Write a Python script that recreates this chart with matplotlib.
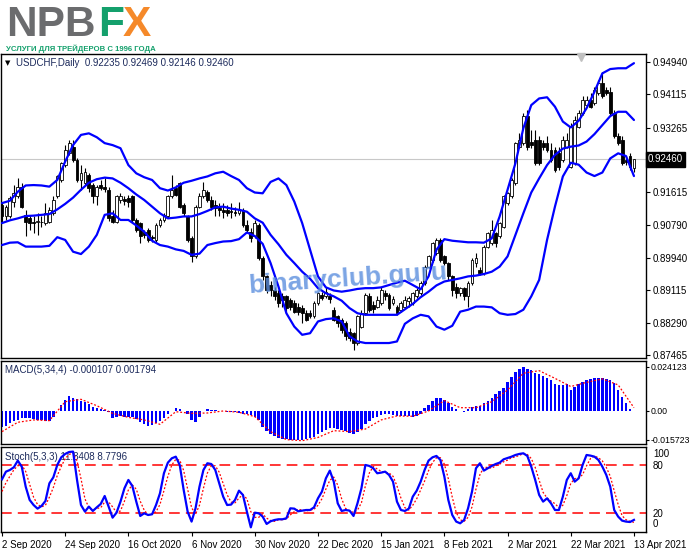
import numpy as np
import matplotlib.pyplot as plt
import matplotlib.transforms as mtransforms

plt.rcParams['font.family'] = ['Liberation Sans', 'DejaVu Sans']

# USDCHF daily candles, 2 Sep 2020 .. 13 Apr 2021
opens = [
    0.9129, 0.9100, 0.9100, 0.9138, 0.9151, 0.9176, 0.9104, 0.9095, 0.9087, 0.9087,
    0.9087, 0.9083, 0.9087, 0.9108, 0.9151, 0.9193, 0.9231, 0.9261, 0.9278, 0.9244,
    0.9193, 0.9185, 0.9206, 0.9180, 0.9151, 0.9180, 0.9174, 0.9168, 0.9100, 0.9087,
    0.9142, 0.9144, 0.9146, 0.9151, 0.9091, 0.9083, 0.9061, 0.9066, 0.9047, 0.9040,
    0.9078, 0.9091, 0.9100, 0.9151, 0.9172, 0.9185, 0.9129, 0.9100, 0.9044, 0.8998,
    0.9125, 0.9151, 0.9163, 0.9142, 0.9129, 0.9121, 0.9117, 0.9117, 0.9114, 0.9112,
    0.9108, 0.9117, 0.9078, 0.9061, 0.9049, 0.9078, 0.8993, 0.8947, 0.8925, 0.8913,
    0.8904, 0.8896, 0.8896, 0.8887, 0.8879, 0.8870, 0.8866, 0.8853, 0.8853, 0.8845,
    0.8879, 0.8900, 0.8896, 0.8896, 0.8862, 0.8845, 0.8836, 0.8827, 0.8806, 0.8802,
    0.8777, 0.8819, 0.8853, 0.8896, 0.8874, 0.8870, 0.8879, 0.8904, 0.8900, 0.8879,
    0.8870, 0.8862, 0.8870, 0.8883, 0.8879, 0.8896, 0.8904, 0.8930, 0.8972, 0.8989,
    0.9006, 0.9040, 0.8998, 0.8981, 0.8947, 0.8921, 0.8904, 0.8917, 0.8896, 0.8930,
    0.8981, 0.8964, 0.8955, 0.9023, 0.9032, 0.9057, 0.9049, 0.9074, 0.9134, 0.9151,
    0.9185, 0.9278, 0.9287, 0.9355, 0.9291, 0.9295, 0.9295, 0.9287, 0.9287, 0.9270,
    0.9270, 0.9261, 0.9244, 0.9278, 0.9227, 0.9236, 0.9329, 0.9363, 0.9384, 0.9397,
    0.9389, 0.9414, 0.9440, 0.9423, 0.9418, 0.9363, 0.9304, 0.9295, 0.9244, 0.9253,
    0.92235]
highs = [
    0.9138, 0.9129, 0.9151, 0.9180, 0.9197, 0.9185, 0.9117, 0.9104, 0.9100, 0.9108,
    0.9100, 0.9134, 0.9125, 0.9151, 0.9206, 0.9240, 0.9282, 0.9295, 0.9295, 0.9248,
    0.9231, 0.9223, 0.9210, 0.9185, 0.9180, 0.9193, 0.9197, 0.9176, 0.9117, 0.9155,
    0.9159, 0.9151, 0.9155, 0.9155, 0.9095, 0.9087, 0.9066, 0.9070, 0.9053, 0.9083,
    0.9095, 0.9108, 0.9155, 0.9206, 0.9180, 0.9189, 0.9134, 0.9104, 0.9049, 0.9129,
    0.9159, 0.9189, 0.9168, 0.9151, 0.9142, 0.9134, 0.9134, 0.9129, 0.9134, 0.9125,
    0.9138, 0.9121, 0.9091, 0.9070, 0.9091, 0.9083, 0.8998, 0.8951, 0.8934, 0.8921,
    0.8913, 0.8904, 0.8900, 0.8891, 0.8887, 0.8879, 0.8874, 0.8862, 0.8862, 0.8883,
    0.8908, 0.8908, 0.8921, 0.8904, 0.8870, 0.8849, 0.8840, 0.8832, 0.8815, 0.8806,
    0.8849, 0.8862, 0.8904, 0.8904, 0.8883, 0.8896, 0.8921, 0.8913, 0.8904, 0.8896,
    0.8874, 0.8883, 0.8896, 0.8896, 0.8908, 0.8917, 0.8934, 0.8976, 0.9002, 0.9036,
    0.9044, 0.9044, 0.9002, 0.8985, 0.8951, 0.8930, 0.8921, 0.8921, 0.8934, 0.8993,
    0.9006, 0.8972, 0.9027, 0.9061, 0.9091, 0.9061, 0.9087, 0.9155, 0.9163, 0.9197,
    0.9291, 0.9312, 0.9363, 0.9372, 0.9321, 0.9321, 0.9304, 0.9295, 0.9304, 0.9287,
    0.9278, 0.9278, 0.9304, 0.9312, 0.9338, 0.9355, 0.9372, 0.9406, 0.9406, 0.9414,
    0.9431, 0.9448, 0.9469, 0.9431, 0.9431, 0.9372, 0.9312, 0.9304, 0.9253, 0.9261,
    0.92469]
lows = [
    0.9087, 0.9091, 0.9095, 0.9125, 0.9146, 0.9121, 0.9049, 0.9066, 0.9057, 0.9053,
    0.9074, 0.9078, 0.9083, 0.9104, 0.9146, 0.9189, 0.9227, 0.9257, 0.9240, 0.9189,
    0.9168, 0.9180, 0.9163, 0.9134, 0.9129, 0.9168, 0.9163, 0.9089, 0.9083, 0.9083,
    0.9134, 0.9129, 0.9125, 0.9087, 0.9061, 0.9032, 0.9044, 0.9036, 0.9036, 0.9036,
    0.9074, 0.9087, 0.9095, 0.9146, 0.9151, 0.9121, 0.9100, 0.9036, 0.8985, 0.8993,
    0.9121, 0.9146, 0.9138, 0.9117, 0.9100, 0.9100, 0.9095, 0.9100, 0.9095, 0.9100,
    0.9104, 0.9074, 0.9061, 0.9036, 0.9044, 0.8989, 0.8938, 0.8904, 0.8896, 0.8887,
    0.8870, 0.8870, 0.8857, 0.8862, 0.8853, 0.8849, 0.8827, 0.8832, 0.8840, 0.8840,
    0.8874, 0.8887, 0.8891, 0.8879, 0.8832, 0.8819, 0.8802, 0.8785, 0.8781, 0.8760,
    0.8772, 0.8815, 0.8849, 0.8857, 0.8853, 0.8866, 0.8874, 0.8887, 0.8862, 0.8874,
    0.8849, 0.8857, 0.8866, 0.8870, 0.8874, 0.8891, 0.8900, 0.8925, 0.8968, 0.8985,
    0.9002, 0.8985, 0.8976, 0.8938, 0.8896, 0.8891, 0.8896, 0.8887, 0.8870, 0.8925,
    0.8972, 0.8951, 0.8951, 0.9019, 0.9027, 0.9023, 0.9044, 0.9070, 0.9129, 0.9146,
    0.9180, 0.9274, 0.9282, 0.9270, 0.9274, 0.9231, 0.9231, 0.9270, 0.9265, 0.9240,
    0.9214, 0.9219, 0.9240, 0.9274, 0.9223, 0.9231, 0.9325, 0.9359, 0.9380, 0.9376,
    0.9384, 0.9410, 0.9401, 0.9410, 0.9359, 0.9300, 0.9282, 0.9231, 0.9231, 0.9219,
    0.92146]
closes = [
    0.9100, 0.9125, 0.9146, 0.9159, 0.9176, 0.9125, 0.9087, 0.9083, 0.9084, 0.9089,
    0.9085, 0.9108, 0.9117, 0.9142, 0.9202, 0.9236, 0.9270, 0.9287, 0.9244, 0.9193,
    0.9210, 0.9214, 0.9172, 0.9151, 0.9176, 0.9172, 0.9169, 0.9095, 0.9087, 0.9151,
    0.9151, 0.9140, 0.9138, 0.9091, 0.9066, 0.9049, 0.9053, 0.9040, 0.9044, 0.9078,
    0.9091, 0.9104, 0.9151, 0.9168, 0.9155, 0.9125, 0.9108, 0.9040, 0.8998, 0.9125,
    0.9151, 0.9168, 0.9142, 0.9125, 0.9121, 0.9117, 0.9112, 0.9108, 0.9111, 0.9108,
    0.9117, 0.9078, 0.9066, 0.9044, 0.9083, 0.8993, 0.8947, 0.8913, 0.8913, 0.8896,
    0.8879, 0.8887, 0.8866, 0.8870, 0.8857, 0.8857, 0.8853, 0.8836, 0.8845, 0.8879,
    0.8904, 0.8891, 0.8908, 0.8889, 0.8836, 0.8827, 0.8810, 0.8794, 0.8789, 0.8777,
    0.8845, 0.8853, 0.8900, 0.8862, 0.8863, 0.8887, 0.8913, 0.8896, 0.8866, 0.8889,
    0.8853, 0.8879, 0.8887, 0.8891, 0.8904, 0.8913, 0.8930, 0.8972, 0.8998, 0.9032,
    0.9040, 0.8989, 0.8981, 0.8947, 0.8913, 0.8904, 0.8917, 0.8896, 0.8930, 0.8989,
    0.8993, 0.8955, 0.9023, 0.9057, 0.9066, 0.9032, 0.9083, 0.9151, 0.9159, 0.9193,
    0.9287, 0.9295, 0.9355, 0.9278, 0.9282, 0.9236, 0.9236, 0.9278, 0.9270, 0.9244,
    0.9219, 0.9227, 0.9295, 0.9295, 0.9329, 0.9346, 0.9363, 0.9397, 0.9397, 0.9380,
    0.9423, 0.9440, 0.9406, 0.9414, 0.9363, 0.9304, 0.9287, 0.9236, 0.9240, 0.9227,
    0.92460]

# Bollinger bands, read every 2nd bar
band_idx = list(range(0, 161, 2))
bb_upper = [
    0.9134, 0.9140, 0.9163, 0.9179, 0.9180, 0.9179, 0.9176, 0.9193, 0.9240, 0.9282,
    0.9308, 0.9312, 0.9302, 0.9287, 0.9282, 0.9274, 0.9231, 0.9210, 0.9200, 0.9193,
    0.9172, 0.9166, 0.9174, 0.9186, 0.9191, 0.9197, 0.9202, 0.9210, 0.9214, 0.9203,
    0.9193, 0.9172, 0.9161, 0.9159, 0.9188, 0.9197, 0.9180, 0.9138, 0.9083, 0.9015,
    0.8947, 0.8919, 0.8911, 0.8908, 0.8911, 0.8915, 0.8917, 0.8917, 0.8919, 0.8925,
    0.8931, 0.8936, 0.8925, 0.8914, 0.8947, 0.9015, 0.9042, 0.9038, 0.9036, 0.9034,
    0.9034, 0.9033, 0.9044, 0.9100, 0.9168, 0.9236, 0.9325, 0.9384, 0.9401, 0.9404,
    0.9380, 0.9342, 0.9327, 0.9344, 0.9376, 0.9418, 0.9465, 0.9476, 0.9478, 0.9478,
    0.9491]
bb_middle = [
    0.9083, 0.9090, 0.9095, 0.9101, 0.9102, 0.9104, 0.9106, 0.9118, 0.9132, 0.9148,
    0.9168, 0.9186, 0.9195, 0.9199, 0.9197, 0.9186, 0.9172, 0.9156, 0.9142, 0.9125,
    0.9108, 0.9095, 0.9097, 0.9100, 0.9100, 0.9106, 0.9114, 0.9123, 0.9125, 0.9120,
    0.9117, 0.9112, 0.9095, 0.9084, 0.9053, 0.9029, 0.9002, 0.8981, 0.8959, 0.8941,
    0.8917, 0.8904, 0.8896, 0.8885, 0.8866, 0.8853, 0.8849, 0.8849, 0.8849, 0.8849,
    0.8849, 0.8863, 0.8877, 0.8894, 0.8908, 0.8924, 0.8934, 0.8938, 0.8942, 0.8947,
    0.8949, 0.8953, 0.8959, 0.8972, 0.8998, 0.9053, 0.9108, 0.9161, 0.9197, 0.9231,
    0.9257, 0.9273, 0.9278, 0.9281, 0.9291, 0.9310, 0.9333, 0.9356, 0.9367, 0.9367,
    0.9346]
bb_lower = [
    0.9027, 0.9033, 0.9034, 0.9023, 0.9023, 0.9023, 0.9025, 0.9047, 0.9040, 0.9010,
    0.9004, 0.9023, 0.9053, 0.9104, 0.9108, 0.9091, 0.9091, 0.9077, 0.9061, 0.9038,
    0.9027, 0.9023, 0.9016, 0.9012, 0.9002, 0.9005, 0.9027, 0.9032, 0.9036, 0.9037,
    0.9042, 0.9059, 0.9050, 0.9030, 0.8981, 0.8921, 0.8853, 0.8819, 0.8798, 0.8802,
    0.8832, 0.8838, 0.8840, 0.8832, 0.8794, 0.8781, 0.8777, 0.8777, 0.8777, 0.8777,
    0.8781, 0.8826, 0.8840, 0.8849, 0.8845, 0.8819, 0.8811, 0.8821, 0.8857, 0.8862,
    0.8870, 0.8870, 0.8868, 0.8853, 0.8849, 0.8851, 0.8862, 0.8896, 0.8938, 0.9040,
    0.9125, 0.9202, 0.9237, 0.9232, 0.9212, 0.9203, 0.9212, 0.9248, 0.9261, 0.9254,
    0.9203]

macd_hist = [
    -0.0086, -0.0081, -0.0068, -0.0055, -0.0049, -0.0040, -0.0040, -0.0040, -0.0044, -0.0049,
    -0.0051, -0.0055, -0.0055, -0.0031, 0.0001, 0.0033, 0.0060, 0.0084, 0.0073, 0.0066,
    0.0055, 0.0048, 0.0037, 0.0024, 0.0015, 0.0011, 0.0005, -0.0007, -0.0040, -0.0031,
    -0.0029, -0.0031, -0.0035, -0.0033, -0.0044, -0.0059, -0.0071, -0.0081, -0.0077, -0.0068,
    -0.0055, -0.0040, -0.0018, 0.0001, 0.0018, 0.0011, 0.0001, -0.0018, -0.0049, -0.0059,
    -0.0031, 0.0001, 0.0009, 0.0007, 0.0004, 0.0002, 0.0001, -0.0004, -0.0005, -0.0007,
    -0.0011, -0.0015, -0.0018, -0.0022, -0.0031, -0.0049, -0.0086, -0.0110, -0.0128, -0.0139,
    -0.0146, -0.0152, -0.0156, -0.0159, -0.0159, -0.0159, -0.0157, -0.0154, -0.0150, -0.0141,
    -0.0128, -0.0113, -0.0102, -0.0095, -0.0095, -0.0101, -0.0106, -0.0110, -0.0121, -0.0128,
    -0.0117, -0.0099, -0.0073, -0.0055, -0.0040, -0.0031, -0.0022, -0.0015, -0.0015, -0.0022,
    -0.0026, -0.0029, -0.0027, -0.0029, -0.0033, -0.0027, -0.0018, 0.0015, 0.0033, 0.0055,
    0.0073, 0.0073, 0.0060, 0.0042, 0.0024, 0.0009, 0.0001, -0.0004, 0.0011, 0.0022,
    0.0026, 0.0029, 0.0042, 0.0055, 0.0073, 0.0092, 0.0110, 0.0128, 0.0157, 0.0187,
    0.0212, 0.0232, 0.0241, 0.0232, 0.0227, 0.0207, 0.0201, 0.0194, 0.0183, 0.0170,
    0.0146, 0.0143, 0.0143, 0.0146, 0.0115, 0.0134, 0.0150, 0.0161, 0.0168, 0.0174,
    0.0179, 0.0183, 0.0179, 0.0176, 0.0170, 0.0152, 0.0115, 0.0079, 0.0042, 0.0011,
    -0.000107]
# MACD signal line, read every 4th bar
signal_idx = list(range(0, 161, 4))
macd_signal = [-0.0113, -0.0062, -0.0049, -0.0053, 0.0051, 0.0064, 0.0029, -0.0013, -0.0035, -0.0049,
               -0.0073, -0.0004, -0.0013, -0.0011, 0.0000, -0.0007, -0.0031, -0.0113, -0.0157, -0.0163,
               -0.0145, -0.0108, -0.0113, -0.0099, -0.0049, -0.0027, -0.0029, 0.0000, 0.0057, 0.0018,
               0.0018, 0.0051, 0.0115, 0.0207, 0.0221, 0.0179, 0.0134, 0.0157, 0.0176, 0.0143,
               0.001794]

stoch_k = [
    62.2, 71.7, 73.8, 77.1, 85.4, 77.9, 53.1, 36.6, 30.3, 25.8,
    29.1, 35.3, 57.2, 64.7, 80.0, 89.5, 93.7, 96.1, 96.6, 61.4,
    30.3, 22.1, 28.3, 22.9, 27.4, 31.6, 41.5, 28.3, 14.6, 20.8,
    34.5, 51.0, 61.4, 53.9, 34.5, 16.7, 20.0, 17.9, 18.8, 30.3,
    44.8, 69.7, 82.9, 88.3, 90.3, 80.0, 49.0, 22.1, 9.7, 26.2,
    53.1, 73.8, 82.1, 81.2, 73.8, 57.2, 40.7, 30.3, 30.8, 36.6,
    48.1, 42.8, 22.1, 2.6, 20.8, 20.0, 15.9, 6.8, 10.1, 11.7,
    12.6, 12.6, 13.8, 26.2, 25.8, 22.5, 23.3, 24.1, 24.1, 27.4,
    38.6, 46.9, 63.4, 73.0, 59.3, 32.4, 22.9, 24.1, 23.3, 16.7,
    32.4, 51.0, 80.0, 78.8, 75.9, 69.7, 70.5, 71.7, 67.6, 59.3,
    34.5, 24.1, 22.9, 25.8, 40.7, 48.1, 59.3, 73.8, 85.4, 89.5,
    91.2, 86.2, 65.5, 36.6, 17.9, 9.7, 7.6, 11.7, 26.2, 46.9,
    75.9, 82.1, 73.0, 75.9, 78.8, 81.2, 82.9, 87.0, 88.7, 90.3,
    92.4, 93.7, 94.5, 91.2, 77.9, 61.4, 42.8, 34.5, 38.6, 32.4,
    24.1, 24.1, 40.7, 61.4, 69.7, 59.3, 63.4, 80.0, 92.4, 91.6,
    90.3, 86.2, 77.9, 67.6, 53.1, 24.1, 15.9, 10.9, 9.7, 9.2,
    11.8408]
stoch_d = [
    47, 58, 66, 74, 79, 80, 72, 56, 40, 31,
    28, 30, 40, 52, 67, 78, 88, 93, 95, 85,
    63, 38, 27, 24, 26, 27, 34, 34, 28, 21,
    23, 35, 49, 55, 50, 35, 24, 18, 19, 22,
    31, 48, 66, 80, 87, 86, 73, 50, 27, 19,
    30, 51, 70, 79, 79, 71, 57, 43, 34, 33,
    39, 43, 38, 22, 15, 15, 19, 14, 11, 10,
    12, 12, 13, 18, 22, 25, 24, 23, 24, 25,
    30, 38, 50, 61, 65, 55, 38, 26, 23, 21,
    24, 33, 54, 70, 78, 75, 72, 71, 70, 66,
    54, 39, 27, 24, 30, 38, 49, 60, 73, 83,
    89, 89, 81, 63, 40, 21, 12, 10, 15, 28,
    50, 68, 77, 77, 76, 79, 81, 84, 86, 89,
    90, 92, 94, 93, 88, 77, 61, 46, 39, 35,
    32, 27, 30, 42, 57, 63, 64, 68, 79, 88,
    91, 89, 85, 77, 66, 48, 31, 17, 12, 10,
    8.7796]

date_idx = [0, 16, 32, 48, 64, 80, 96, 112, 128, 144, 160]
date_labels = ['2 Sep 2020', '24 Sep 2020', '16 Oct 2020', '6 Nov 2020', '30 Nov 2020',
               '22 Dec 2020', '15 Jan 2021', '8 Feb 2021', '2 Mar 2021', '22 Mar 2021',
               '13 Apr 2021']
price_ticks = [0.94940, 0.94115, 0.93265, 0.91615, 0.90790, 0.89940, 0.89115, 0.88290, 0.87465]
last_price = 0.92460

x = np.arange(len(closes))
W, H = 691, 549
fig = plt.figure(figsize=(W / 100, H / 100), dpi=100)
fig.patch.set_facecolor('white')


def px_axes(left, top, right, bottom):
    return fig.add_axes([left / W, 1 - bottom / H, (right - left) / W, (bottom - top) / H])


XLIM = (-0.25, 163.05)
BLUE = '#0000ff'
TXT = '#1c2a5c'

# ---------------- price panel ----------------
ax = px_axes(1, 54, 646, 358)
ax.set_xlim(*XLIM)
ax.set_ylim(0.87388, 0.95144)
ax.axhline(last_price, color='#c8c8c8', lw=0.8, zorder=0)

o = np.array(opens); c = np.array(closes)
ax.vlines(x, lows, highs, color='black', lw=0.8, zorder=3)
bull = c >= o
face = np.where(bull, 'white', 'black')
ax.bar(x, np.abs(c - o), bottom=np.minimum(o, c), width=0.72, color=face,
       edgecolor='black', linewidth=0.6, zorder=4)

for band in (bb_upper, bb_middle, bb_lower):
    ax.plot(band_idx, band, color=BLUE, lw=1.6, zorder=5,
            solid_joinstyle='round', solid_capstyle='round')

ax.yaxis.tick_right()
ax.set_yticks(price_ticks)
ax.set_yticklabels(['%.5f' % v for v in price_ticks])
ax.tick_params(axis='y', length=3, width=0.8, pad=2, labelsize=7)
ax.set_xticks([])
ax.text(1.003, last_price, '%.5f' % last_price,
        transform=mtransforms.blended_transform_factory(ax.transAxes, ax.transData),
        color='white', fontsize=7, va='center', ha='left',
        bbox=dict(boxstyle='square,pad=0.25', fc='black', ec='black'), clip_on=False)
ax.text(0.006, 0.97, '\u25BC', transform=ax.transAxes, fontsize=5, va='center', ha='left',
        family='DejaVu Sans', color='black')
ax.text(0.024, 0.97, 'USDCHF,Daily  0.92235 0.92469 0.92146 0.92460', transform=ax.transAxes,
        fontsize=7, va='center', ha='left', color=TXT)
ax.plot([146.6], [0.9508], marker='v', color='#c0c0c0', ms=6, zorder=6, clip_on=False)

# ---------------- MACD panel ----------------
am = px_axes(1, 361, 646, 444)
am.set_xlim(*XLIM)
am.set_ylim(-0.0181, 0.0274)
am.bar(x, macd_hist, width=0.62, color=BLUE, zorder=2)
am.plot(signal_idx, macd_signal, color='red', lw=0.9, ls=(0, (1.5, 1.5)), zorder=3)
am.yaxis.tick_right()
am.set_yticks([0.024123, 0.0, -0.015723])
am.set_yticklabels(['0.024123', '0.00', '-0.015723'])
am.tick_params(axis='y', length=2, width=0.8, pad=1, labelsize=6.3)
am.set_xticks([])
am.text(0.006, 0.89, 'MACD(5,34,4) -0.000107 0.001794', transform=am.transAxes,
        fontsize=7, va='center', ha='left', color=TXT, zorder=1)

# ---------------- Stochastic panel ----------------
ast = px_axes(1, 447, 646, 532)
ast.set_xlim(*XLIM)
ast.set_ylim(-3.2, 102.3)
for lvl in (80, 20):
    ast.axhline(lvl, color='red', lw=1.1, ls=(0, (7, 4)), zorder=1)
ast.plot(x, stoch_d, color='red', lw=0.9, ls=(0, (1.5, 1.5)), zorder=3)
ast.plot(x, stoch_k, color=BLUE, lw=1.6, zorder=4)
ast.yaxis.tick_right()
ast.set_yticks([94.5, 80, 20, 7.6])
ast.set_yticklabels(['100', '80', '20', '0'])
ast.tick_params(axis='y', length=0, pad=5, labelsize=7)
ast.set_xticks(date_idx)
ast.set_xticklabels([])
ast.tick_params(axis='x', length=3, width=0.8, direction='out')
tb = mtransforms.blended_transform_factory(ast.transData, ast.transAxes)
for i, lab in zip(date_idx, date_labels):
    ast.text(i, -0.09, lab, transform=tb, fontsize=7, ha='left', va='top', clip_on=False)
ast.text(0.006, 0.88, 'Stoch(5,3,3) 11.8408 8.7796', transform=ast.transAxes,
         fontsize=7, va='center', ha='left', color=TXT, zorder=2)

for a in (ax, am, ast):
    for s in a.spines.values():
        s.set_color('black')
        s.set_linewidth(1.0)
    a.set_facecolor('none')

# ---------------- logo & watermark ----------------
logo_y = 1 - 36 / H
fig.text(6 / W, logo_y, 'NPB', fontsize=30.5, fontweight='bold', color='#6b6c6e',
         ha='left', va='baseline')
fig.text(98 / W, logo_y, 'F', fontsize=30.5, fontweight='bold', color='#14a06c',
         ha='left', va='baseline')
fig.text(123 / W, logo_y, 'X', fontsize=30.5, fontweight='bold', color='#f5892a',
         ha='left', va='baseline')
fig.text(6 / W, 1 - 51 / H, 'УСЛУГИ ДЛЯ ТРЕЙДЕРОВ С 1996 ГОДА', fontsize=5.6,
         fontweight='bold', color='#14a06c', ha='left', va='baseline')

fig.text(348 / W, 1 - 279 / H, 'binaryclub.guru', fontsize=19, fontweight='bold',
         color='#5b8ede', alpha=0.8, ha='center', va='center', rotation=4, zorder=0)

fig.savefig('out.png', dpi=100, facecolor='white')
